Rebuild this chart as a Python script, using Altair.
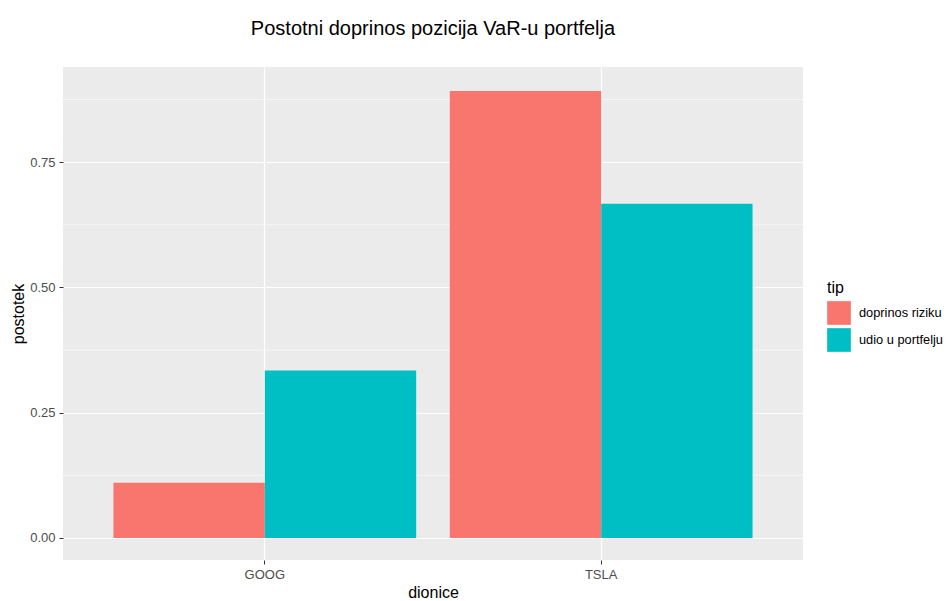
import altair as alt
import pandas as pd

dionice = ["GOOG", "GOOG", "TSLA", "TSLA"]
tip = ["doprinos riziku", "udio u portfelju", "doprinos riziku", "udio u portfelju"]
postotek = [0.110, 0.334, 0.892, 0.667]

major_breaks = [0.0, 0.25, 0.5, 0.75]
minor_breaks = [0.125, 0.375, 0.625, 0.875]

df = pd.DataFrame({"dionice": dionice, "tip": tip, "postotek": postotek})
minor_df = pd.DataFrame({"m": minor_breaks})

ydom = [-0.044, 0.940]
FONT = "Liberation Sans"

yscale = alt.Scale(domain=ydom, nice=False, zero=False)

minor = alt.Chart(minor_df).mark_rule(color="white", strokeWidth=0.6).encode(
    y=alt.Y("m:Q", scale=yscale)
)

bars = alt.Chart(df).mark_bar().encode(
    x=alt.X("dionice:N", title="dionice",
            scale=alt.Scale(paddingInner=0.1, paddingOuter=0.15),
            axis=alt.Axis(labelAngle=0, grid=True)),
    xOffset=alt.XOffset("tip:N", scale=alt.Scale(paddingInner=0, paddingOuter=0)),
    y=alt.Y("postotek:Q", title="postotek", scale=yscale,
            axis=alt.Axis(values=major_breaks, format=".2f")),
    color=alt.Color("tip:N", title="tip",
                    scale=alt.Scale(domain=["doprinos riziku", "udio u portfelju"],
                                    range=["#F8766D", "#00BFC4"]),
                    legend=alt.Legend(orient="none", legendX=764, legendY=213,
                                      symbolType="square", symbolSize=560,
                                      symbolStrokeWidth=0, rowPadding=3,
                                      labelOffset=8, titlePadding=5)),
)

chart = alt.layer(minor, bars).properties(
    width=740, height=493,
    title=alt.TitleParams("Postotni doprinos pozicija VaR-u portfelja",
                          anchor="middle", fontSize=20, font=FONT,
                          fontWeight="normal", color="black", offset=28),
    autosize=alt.AutoSizeParams(type="none"),
    padding={"left": 55, "top": 59, "right": 140, "bottom": 40},
).configure_view(
    fill="#EBEBEB", stroke=None
).configure_axis(
    domain=False, gridColor="white", gridWidth=1.2,
    tickColor="#333333", tickSize=4, tickWidth=1,
    labelColor="#4D4D4D", labelFontSize=13, labelFont=FONT, labelPadding=4,
    titleFont=FONT, titleFontSize=16, titleFontWeight="normal", titleColor="black",
).configure_axisY(
    titlePadding=3
).configure_axisX(
    titlePadding=3
).configure_legend(
    titleFont=FONT, titleFontSize=16, titleFontWeight="normal", titleColor="black",
    labelFont=FONT, labelFontSize=12.8, labelColor="black",
)

chart.save("out.html", embed_options={"renderer": "svg", "actions": False})
